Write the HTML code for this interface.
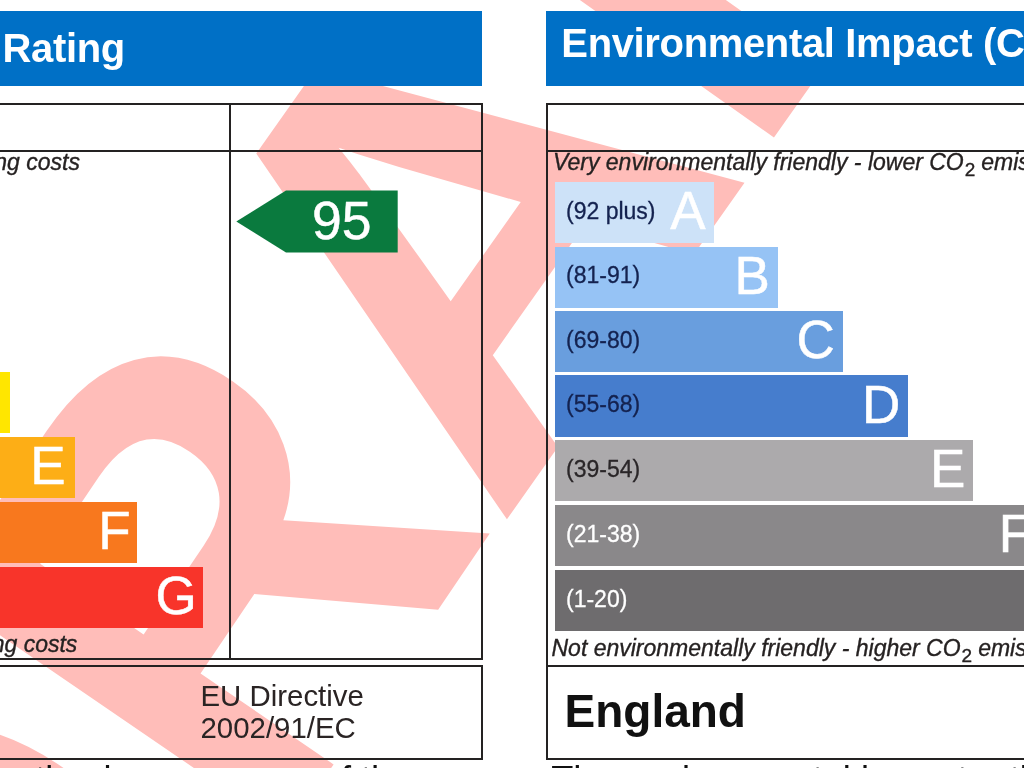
<!DOCTYPE html>
<html>
<head>
<meta charset="utf-8">
<title>Energy Performance Certificate</title>
<style>
html,body{margin:0;padding:0;}
body{width:1024px;height:768px;overflow:hidden;background:#fff;position:relative;font-family:"Liberation Sans",sans-serif;color:#111;}
.abs{position:absolute;}
.wm{position:absolute;left:0;top:0;width:0;height:0;font-family:"Liberation Sans",sans-serif;font-weight:bold;font-size:610px;line-height:1;color:#ffbdb9;font-kerning:none;}
.wm span{position:absolute;left:0;top:0;white-space:nowrap;transform-origin:0 0;}
.hdr{position:absolute;background:#0070c6;height:75px;top:10.5px;}
.ht{position:absolute;color:#fff;font-weight:bold;font-size:40px;letter-spacing:-0.35px;line-height:40px;white-space:nowrap;top:22.8px;}
.ln{position:absolute;background:#242222;}
.bar{position:absolute;height:61.4px;color:#fff;}
.bar .l{-webkit-text-stroke:0.5px #fff;position:absolute;right:8px;top:-1.8px;font-size:53px;line-height:61px;color:#fff;}
.bar .r{-webkit-text-stroke:0.3px;position:absolute;left:11px;top:-1.5px;font-size:23px;line-height:61px;color:#14224f;white-space:nowrap;}
.it{-webkit-text-stroke:0.35px #262222;position:absolute;font-style:italic;font-size:23px;white-space:nowrap;color:#262222;line-height:24px;}
.it .s{font-size:19px;font-style:normal;position:relative;top:6px;margin:0 -0.4px 0 1px;}
.bc{position:absolute;top:760px;height:8px;overflow:hidden;}
.bt{position:absolute;font-size:36.2px;line-height:40px;white-space:nowrap;color:#111;top:-0.2px;}
</style>
</head>
<body>
<div class="wm"><span style="transform:matrix(0.57786,-0.81614,0.81614,0.57786,-421.53,932.91)">D</span><span style="transform:matrix(0.52160,-0.77132,0.83486,0.57102,-164.31,569.01)">R</span><span style="transform:matrix(0.58059,-0.82263,0.80904,0.57159,80.63,236.92)">A</span><span style="transform:matrix(0.55474,-0.78349,0.81614,0.57786,330.19,-128.78)">F</span><span style="transform:matrix(0.57786,-0.81614,0.81614,0.57786,547.06,-435.08)">T</span></div>

<div class="hdr" style="left:0;width:481.5px;"></div>
<div class="hdr" style="left:545.8px;width:480px;"></div>
<div class="ht" style="left:-338px;top:28.2px;">Energy Efficiency Rating</div>
<div class="ht" style="left:561.3px;">Environmental Impact (CO<sub>2</sub>) Rating</div>

<!-- left table -->
<div class="ln" style="left:0;top:103px;width:482px;height:2px;"></div>
<div class="ln" style="left:0;top:150px;width:482px;height:2px;"></div>
<div class="ln" style="left:229px;top:103px;width:2px;height:556px;"></div>
<div class="ln" style="left:480.5px;top:103px;width:2px;height:556px;"></div>
<div class="ln" style="left:0;top:657.5px;width:482.5px;height:2px;"></div>
<div class="ln" style="left:0;top:664.5px;width:482.5px;height:2px;"></div>
<div class="ln" style="left:480.5px;top:664.5px;width:2px;height:95px;"></div>
<div class="ln" style="left:0;top:757.5px;width:482.5px;height:2px;"></div>

<!-- right table -->
<div class="ln" style="left:545.5px;top:103px;width:479px;height:2px;"></div>
<div class="ln" style="left:545.5px;top:150px;width:479px;height:2px;"></div>
<div class="ln" style="left:545.5px;top:103px;width:2px;height:656px;"></div>
<div class="ln" style="left:545.5px;top:664.5px;width:479px;height:2px;"></div>
<div class="ln" style="left:545.5px;top:757.5px;width:479px;height:2px;"></div>

<!-- left bars -->
<div class="bar" style="left:-300px;width:309.8px;top:372px;background:#ffe600;"></div>
<div class="bar" style="left:-300px;width:374.6px;top:436.5px;background:#fdae16;"><span class="l" style="right:9px">E</span></div>
<div class="bar" style="left:-300px;width:437.2px;top:501.8px;background:#f8781e;"><span class="l" style="right:6.5px">F</span></div>
<div class="bar" style="left:-300px;width:503.2px;top:567px;background:#f8342a;"><span class="l" style="right:6.5px">G</span></div>

<!-- right bars -->
<div class="bar" style="left:555px;width:158.5px;top:182px;background:#cde2f8;"><span class="r">(92 plus)</span><span class="l">A</span></div>
<div class="bar" style="left:555px;width:222.8px;top:246.6px;background:#96c3f5;"><span class="r">(81-91)</span><span class="l">B</span></div>
<div class="bar" style="left:555px;width:287.8px;top:311px;background:#699ede;"><span class="r">(69-80)</span><span class="l">C</span></div>
<div class="bar" style="left:555px;width:353.2px;top:375.4px;background:#467dcd;"><span class="r">(55-68)</span><span class="l">D</span></div>
<div class="bar" style="left:555px;width:418.4px;top:440px;background:#acaaac;"><span class="r" style="color:#2a2628">(39-54)</span><span class="l">E</span></div>
<div class="bar" style="left:555px;width:483px;top:505px;background:#8a888a;"><span class="r" style="color:#fff">(21-38)</span><span class="l" style="right:6.8px">F</span></div>
<div class="bar" style="left:555px;width:548px;top:570px;background:#6e6c6e;"><span class="r" style="color:#fff">(1-20)</span><span class="l">G</span></div>

<!-- arrow -->
<svg class="abs" style="left:230px;top:180px;" width="180" height="84" viewBox="230 180 180 84"><polygon points="236.3,221.5 286,190.6 397.7,190.6 397.7,252.5 286,252.5" fill="#0a7a3e"/><text x="341.8" y="239" font-family="Liberation Sans, sans-serif" font-size="53.5" fill="#fff" stroke="#fff" stroke-width="0.5" text-anchor="middle">95</text></svg>

<!-- italic captions -->
<div class="it" style="left:-347.5px;top:150.4px;">Very energy efficient - lower running costs</div>
<div class="it" style="left:-348.4px;top:632.4px;">Not energy efficient - higher running costs</div>
<div class="it" style="left:553px;top:150.4px;">Very environmentally friendly - lower CO<span class="s">2</span> emissions</div>
<div class="it" style="left:551.5px;top:636px;">Not environmentally friendly - higher CO<span class="s">2</span> emissions</div>

<div class="abs" style="left:200.5px;top:679.5px;font-size:29.4px;line-height:32.8px;color:#2a2424;white-space:nowrap;">EU Directive<br>2002/91/EC</div>
<div class="abs" style="left:564.5px;top:685.3px;font-size:46px;line-height:52px;font-weight:bold;color:#111;white-space:nowrap;">England</div>

<div class="bc" style="left:0;width:530px;"><div class="bt" style="left:-350.4px;">The energy efficiency rating is a measure of the</div></div>
<div class="bc" style="left:540px;width:484px;"><div class="bt" style="left:11.2px;">The environmental impact rating is a measure</div></div>
</body>
</html>
